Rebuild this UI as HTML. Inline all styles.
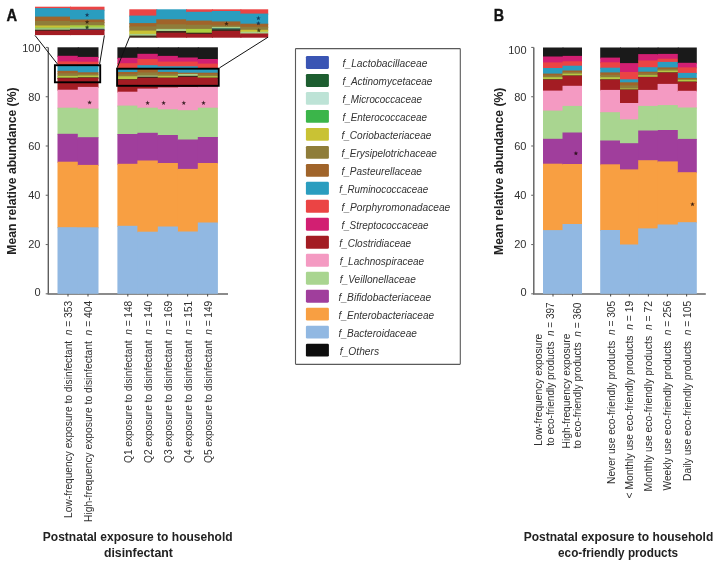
<!DOCTYPE html>
<html><head><meta charset="utf-8"><style>
html,body{margin:0;padding:0;background:#fff;}
svg{display:block;font-family:"Liberation Sans", sans-serif;will-change:transform;}
</style></head><body>
<svg width="720" height="567" viewBox="0 0 720 567">
<rect width="720" height="567" fill="#fff"/>
<text x="6.5" y="20.9" font-size="16.3" font-weight="bold" fill="#111" stroke="#111" stroke-width="0.35" textLength="10.6" lengthAdjust="spacingAndGlyphs">A</text>
<text x="493.8" y="20.8" font-size="16.3" font-weight="bold" fill="#111" stroke="#111" stroke-width="0.35" textLength="10.3" lengthAdjust="spacingAndGlyphs">B</text>
<line x1="48.3" y1="47.4" x2="48.3" y2="293.8" stroke="#5e5e5e" stroke-width="1.4"/>
<line x1="45.699999999999996" y1="293.80" x2="48.3" y2="293.80" stroke="#6e6e6e" stroke-width="1.1"/>
<text x="40.5" y="295.55" text-anchor="end" font-size="11" fill="#303030">0</text>
<line x1="45.699999999999996" y1="244.53" x2="48.3" y2="244.53" stroke="#6e6e6e" stroke-width="1.1"/>
<text x="40.5" y="248.48" text-anchor="end" font-size="11" fill="#303030">20</text>
<line x1="45.699999999999996" y1="195.26" x2="48.3" y2="195.26" stroke="#6e6e6e" stroke-width="1.1"/>
<text x="40.5" y="199.21" text-anchor="end" font-size="11" fill="#303030">40</text>
<line x1="45.699999999999996" y1="145.99" x2="48.3" y2="145.99" stroke="#6e6e6e" stroke-width="1.1"/>
<text x="40.5" y="149.94" text-anchor="end" font-size="11" fill="#303030">60</text>
<line x1="45.699999999999996" y1="96.72" x2="48.3" y2="96.72" stroke="#6e6e6e" stroke-width="1.1"/>
<text x="40.5" y="100.67" text-anchor="end" font-size="11" fill="#303030">80</text>
<line x1="45.699999999999996" y1="47.45" x2="48.3" y2="47.45" stroke="#6e6e6e" stroke-width="1.1"/>
<text x="40.5" y="51.90" text-anchor="end" font-size="11" fill="#303030">100</text>
<line x1="47.6" y1="294.0" x2="228" y2="294.0" stroke="#646464" stroke-width="1.5"/>
<line x1="68" y1="293.8" x2="68" y2="296.40000000000003" stroke="#555" stroke-width="1.1"/>
<line x1="88" y1="293.8" x2="88" y2="296.40000000000003" stroke="#555" stroke-width="1.1"/>
<line x1="127.8" y1="293.8" x2="127.8" y2="296.40000000000003" stroke="#555" stroke-width="1.1"/>
<line x1="147.6" y1="293.8" x2="147.6" y2="296.40000000000003" stroke="#555" stroke-width="1.1"/>
<line x1="167.7" y1="293.8" x2="167.7" y2="296.40000000000003" stroke="#555" stroke-width="1.1"/>
<line x1="187.6" y1="293.8" x2="187.6" y2="296.40000000000003" stroke="#555" stroke-width="1.1"/>
<line x1="207.6" y1="293.8" x2="207.6" y2="296.40000000000003" stroke="#555" stroke-width="1.1"/>
<rect x="57.50" y="47.30" width="21.30" height="9.50" fill="#1a1a1a"/>
<rect x="57.50" y="55.80" width="21.30" height="6.60" fill="#d21f72"/>
<rect x="57.50" y="61.40" width="21.30" height="5.10" fill="#eb4444"/>
<rect x="57.50" y="65.50" width="21.30" height="6.30" fill="#2a9dbf"/>
<rect x="57.50" y="70.80" width="21.30" height="3.50" fill="#a0642a"/>
<rect x="57.50" y="73.30" width="21.30" height="3.60" fill="#8f7d3a"/>
<rect x="57.50" y="75.90" width="21.30" height="2.80" fill="#b4c944"/>
<rect x="57.50" y="77.70" width="21.30" height="1.50" fill="#3e2a1c"/>
<rect x="57.50" y="78.20" width="21.30" height="12.50" fill="#a31c23"/>
<rect x="57.50" y="89.70" width="21.30" height="19.00" fill="#f49ac2"/>
<rect x="57.50" y="107.70" width="21.30" height="27.10" fill="#a9d590"/>
<rect x="57.50" y="133.80" width="21.30" height="28.90" fill="#a03e9c"/>
<rect x="57.50" y="161.70" width="21.30" height="66.50" fill="#f89f42"/>
<rect x="57.50" y="227.20" width="21.30" height="66.60" fill="#91b8e2"/>
<rect x="77.80" y="47.30" width="20.70" height="10.60" fill="#1a1a1a"/>
<rect x="77.80" y="56.90" width="20.70" height="5.80" fill="#d21f72"/>
<rect x="77.80" y="61.70" width="20.70" height="5.10" fill="#eb4444"/>
<rect x="77.80" y="65.80" width="20.70" height="7.50" fill="#2a9dbf"/>
<rect x="77.80" y="72.30" width="20.70" height="2.50" fill="#a0642a"/>
<rect x="77.80" y="73.80" width="20.70" height="2.70" fill="#8f7d3a"/>
<rect x="77.80" y="75.50" width="20.70" height="2.80" fill="#b4c944"/>
<rect x="77.80" y="77.30" width="20.70" height="1.50" fill="#3e2a1c"/>
<rect x="77.80" y="77.80" width="20.70" height="10.10" fill="#a31c23"/>
<rect x="77.80" y="86.90" width="20.70" height="22.70" fill="#f49ac2"/>
<rect x="77.80" y="108.60" width="20.70" height="29.60" fill="#a9d590"/>
<rect x="77.80" y="137.20" width="20.70" height="28.70" fill="#a03e9c"/>
<rect x="77.80" y="164.90" width="20.70" height="63.40" fill="#f89f42"/>
<rect x="77.80" y="227.30" width="20.70" height="66.50" fill="#91b8e2"/>
<rect x="117.40" y="47.30" width="21.00" height="11.50" fill="#1a1a1a"/>
<rect x="117.40" y="57.80" width="21.00" height="6.40" fill="#d21f72"/>
<rect x="117.40" y="63.20" width="21.00" height="6.30" fill="#eb4444"/>
<rect x="117.40" y="68.50" width="21.00" height="4.50" fill="#2a9dbf"/>
<rect x="117.40" y="72.00" width="21.00" height="3.20" fill="#a0642a"/>
<rect x="117.40" y="74.20" width="21.00" height="3.10" fill="#8f7d3a"/>
<rect x="117.40" y="76.30" width="21.00" height="3.90" fill="#b4c944"/>
<rect x="117.40" y="79.20" width="21.00" height="1.40" fill="#3e2a1c"/>
<rect x="117.40" y="79.60" width="21.00" height="13.10" fill="#a31c23"/>
<rect x="117.40" y="91.70" width="21.00" height="14.90" fill="#f49ac2"/>
<rect x="117.40" y="105.60" width="21.00" height="29.40" fill="#a9d590"/>
<rect x="117.40" y="134.00" width="21.00" height="30.80" fill="#a03e9c"/>
<rect x="117.40" y="163.80" width="21.00" height="63.00" fill="#f89f42"/>
<rect x="117.40" y="225.80" width="21.00" height="68.00" fill="#91b8e2"/>
<rect x="137.40" y="47.30" width="21.40" height="7.50" fill="#1a1a1a"/>
<rect x="137.40" y="53.80" width="21.40" height="6.20" fill="#d21f72"/>
<rect x="137.40" y="59.00" width="21.40" height="7.20" fill="#eb4444"/>
<rect x="137.40" y="65.20" width="21.40" height="4.80" fill="#2a9dbf"/>
<rect x="137.40" y="69.00" width="21.40" height="4.50" fill="#a0642a"/>
<rect x="137.40" y="72.50" width="21.40" height="4.10" fill="#8f7d3a"/>
<rect x="137.40" y="75.60" width="21.40" height="2.10" fill="#a8d08a"/>
<rect x="137.40" y="76.70" width="21.40" height="2.20" fill="#3e2a1c"/>
<rect x="137.40" y="77.90" width="21.40" height="11.70" fill="#a31c23"/>
<rect x="137.40" y="88.60" width="21.40" height="20.10" fill="#f49ac2"/>
<rect x="137.40" y="107.70" width="21.40" height="26.10" fill="#a9d590"/>
<rect x="137.40" y="132.80" width="21.40" height="28.70" fill="#a03e9c"/>
<rect x="137.40" y="160.50" width="21.40" height="72.20" fill="#f89f42"/>
<rect x="137.40" y="231.70" width="21.40" height="62.10" fill="#91b8e2"/>
<rect x="157.80" y="47.30" width="21.10" height="9.60" fill="#1a1a1a"/>
<rect x="157.80" y="55.90" width="21.10" height="6.70" fill="#d21f72"/>
<rect x="157.80" y="61.60" width="21.10" height="5.70" fill="#eb4444"/>
<rect x="157.80" y="66.30" width="21.10" height="6.60" fill="#2a9dbf"/>
<rect x="157.80" y="71.90" width="21.10" height="2.90" fill="#a0642a"/>
<rect x="157.80" y="73.80" width="21.10" height="3.00" fill="#8f7d3a"/>
<rect x="157.80" y="75.80" width="21.10" height="2.80" fill="#b4c944"/>
<rect x="157.80" y="77.60" width="21.10" height="1.30" fill="#3e2a1c"/>
<rect x="157.80" y="77.90" width="21.10" height="10.50" fill="#a31c23"/>
<rect x="157.80" y="87.40" width="21.10" height="22.90" fill="#f49ac2"/>
<rect x="157.80" y="109.30" width="21.10" height="26.70" fill="#a9d590"/>
<rect x="157.80" y="135.00" width="21.10" height="29.00" fill="#a03e9c"/>
<rect x="157.80" y="163.00" width="21.10" height="64.50" fill="#f89f42"/>
<rect x="157.80" y="226.50" width="21.10" height="67.30" fill="#91b8e2"/>
<rect x="177.90" y="47.30" width="20.90" height="11.20" fill="#1a1a1a"/>
<rect x="177.90" y="57.50" width="20.90" height="5.10" fill="#d21f72"/>
<rect x="177.90" y="61.60" width="20.90" height="5.70" fill="#eb4444"/>
<rect x="177.90" y="66.30" width="20.90" height="7.40" fill="#2a9dbf"/>
<rect x="177.90" y="72.70" width="20.90" height="2.20" fill="#a0642a"/>
<rect x="177.90" y="73.90" width="20.90" height="2.90" fill="#a8d08a"/>
<rect x="177.90" y="75.80" width="20.90" height="2.20" fill="#3e2a1c"/>
<rect x="177.90" y="77.00" width="20.90" height="11.00" fill="#a31c23"/>
<rect x="177.90" y="87.00" width="20.90" height="24.20" fill="#f49ac2"/>
<rect x="177.90" y="110.20" width="20.90" height="30.30" fill="#a9d590"/>
<rect x="177.90" y="139.50" width="20.90" height="30.40" fill="#a03e9c"/>
<rect x="177.90" y="168.90" width="20.90" height="63.60" fill="#f89f42"/>
<rect x="177.90" y="231.50" width="20.90" height="62.30" fill="#91b8e2"/>
<rect x="197.80" y="47.30" width="20.10" height="12.70" fill="#1a1a1a"/>
<rect x="197.80" y="59.00" width="20.10" height="5.60" fill="#d21f72"/>
<rect x="197.80" y="63.60" width="20.10" height="5.70" fill="#eb4444"/>
<rect x="197.80" y="68.30" width="20.10" height="5.40" fill="#2a9dbf"/>
<rect x="197.80" y="72.70" width="20.10" height="2.80" fill="#a0642a"/>
<rect x="197.80" y="74.50" width="20.10" height="2.70" fill="#8f7d3a"/>
<rect x="197.80" y="76.20" width="20.10" height="2.40" fill="#b4c944"/>
<rect x="197.80" y="77.60" width="20.10" height="1.30" fill="#3e2a1c"/>
<rect x="197.80" y="77.90" width="20.10" height="9.70" fill="#a31c23"/>
<rect x="197.80" y="86.60" width="20.10" height="22.10" fill="#f49ac2"/>
<rect x="197.80" y="107.70" width="20.10" height="30.30" fill="#a9d590"/>
<rect x="197.80" y="137.00" width="20.10" height="27.00" fill="#a03e9c"/>
<rect x="197.80" y="163.00" width="20.10" height="60.50" fill="#f89f42"/>
<rect x="197.80" y="222.50" width="20.10" height="71.30" fill="#91b8e2"/>
<polygon points="89.60,100.20 90.19,101.78 91.88,101.86 90.56,102.91 91.01,104.54 89.60,103.61 88.19,104.54 88.64,102.91 87.32,101.86 89.01,101.78" fill="#1a0808" fill-opacity="0.82"/>
<polygon points="147.60,100.60 148.19,102.18 149.88,102.26 148.56,103.31 149.01,104.94 147.60,104.01 146.19,104.94 146.64,103.31 145.32,102.26 147.01,102.18" fill="#1a0808" fill-opacity="0.82"/>
<polygon points="163.60,100.60 164.19,102.18 165.88,102.26 164.56,103.31 165.01,104.94 163.60,104.01 162.19,104.94 162.64,103.31 161.32,102.26 163.01,102.18" fill="#1a0808" fill-opacity="0.82"/>
<polygon points="183.80,100.60 184.39,102.18 186.08,102.26 184.76,103.31 185.21,104.94 183.80,104.01 182.39,104.94 182.84,103.31 181.52,102.26 183.21,102.18" fill="#1a0808" fill-opacity="0.82"/>
<polygon points="203.50,100.60 204.09,102.18 205.78,102.26 204.46,103.31 204.91,104.94 203.50,104.01 202.09,104.94 202.54,103.31 201.22,102.26 202.91,102.18" fill="#1a0808" fill-opacity="0.82"/>
<rect x="54.9" y="65.2" width="45.3" height="17.1" fill="none" stroke="#000" stroke-width="1.9"/>
<rect x="117.1" y="68.7" width="101.6" height="17.1" fill="none" stroke="#000" stroke-width="1.9"/>
<rect x="35.00" y="6.70" width="36.00" height="2.40" fill="#eb4444"/>
<rect x="35.00" y="8.10" width="36.00" height="9.50" fill="#2a9dbf"/>
<rect x="35.00" y="16.60" width="36.00" height="5.40" fill="#a0642a"/>
<rect x="35.00" y="21.00" width="36.00" height="5.50" fill="#8f7d3a"/>
<rect x="35.00" y="25.50" width="36.00" height="3.10" fill="#c9c234"/>
<rect x="35.00" y="27.60" width="36.00" height="1.90" fill="#86c060"/>
<rect x="35.00" y="28.50" width="36.00" height="2.20" fill="#a8d08a"/>
<rect x="35.00" y="29.70" width="36.00" height="2.10" fill="#3e2a1c"/>
<rect x="35.00" y="30.80" width="36.00" height="4.30" fill="#a31c23"/>
<rect x="70.00" y="6.70" width="34.50" height="4.00" fill="#eb4444"/>
<rect x="70.00" y="9.70" width="34.50" height="10.80" fill="#2a9dbf"/>
<rect x="70.00" y="19.50" width="34.50" height="3.60" fill="#a0642a"/>
<rect x="70.00" y="22.10" width="34.50" height="4.20" fill="#8f7d3a"/>
<rect x="70.00" y="25.30" width="34.50" height="3.10" fill="#aacf3e"/>
<rect x="70.00" y="27.40" width="34.50" height="2.40" fill="#a8d08a"/>
<rect x="70.00" y="28.80" width="34.50" height="2.00" fill="#3a4860"/>
<rect x="70.00" y="29.80" width="34.50" height="5.30" fill="#a31c23"/>
<rect x="129.30" y="9.30" width="28.00" height="7.30" fill="#eb4444"/>
<rect x="129.30" y="15.60" width="28.00" height="8.50" fill="#2a9dbf"/>
<rect x="129.30" y="23.10" width="28.00" height="4.30" fill="#a0642a"/>
<rect x="129.30" y="26.40" width="28.00" height="5.20" fill="#8f7d3a"/>
<rect x="129.30" y="30.60" width="28.00" height="4.30" fill="#c9c234"/>
<rect x="129.30" y="33.90" width="28.00" height="2.70" fill="#a8d08a"/>
<rect x="129.30" y="35.60" width="28.00" height="2.10" fill="#3e2a1c"/>
<rect x="156.30" y="9.30" width="30.80" height="11.00" fill="#2a9dbf"/>
<rect x="156.30" y="19.30" width="30.80" height="6.00" fill="#a0642a"/>
<rect x="156.30" y="24.30" width="30.80" height="5.60" fill="#8f7d3a"/>
<rect x="156.30" y="28.90" width="30.80" height="3.10" fill="#a8d08a"/>
<rect x="156.30" y="31.00" width="30.80" height="2.70" fill="#3e2a1c"/>
<rect x="156.30" y="32.70" width="30.80" height="5.00" fill="#a31c23"/>
<rect x="186.10" y="9.30" width="26.80" height="3.50" fill="#eb4444"/>
<rect x="186.10" y="11.80" width="26.80" height="9.80" fill="#2a9dbf"/>
<rect x="186.10" y="20.60" width="26.80" height="5.15" fill="#a0642a"/>
<rect x="186.10" y="24.75" width="26.80" height="5.15" fill="#8f7d3a"/>
<rect x="186.10" y="28.90" width="26.80" height="4.80" fill="#aacf3e"/>
<rect x="186.10" y="32.70" width="26.80" height="2.20" fill="#3e2a1c"/>
<rect x="186.10" y="33.90" width="26.80" height="3.80" fill="#a31c23"/>
<rect x="211.90" y="9.30" width="29.50" height="2.70" fill="#eb4444"/>
<rect x="211.90" y="11.00" width="29.50" height="11.40" fill="#2a9dbf"/>
<rect x="211.90" y="21.40" width="29.50" height="5.00" fill="#a0642a"/>
<rect x="211.90" y="25.40" width="29.50" height="2.50" fill="#8f7d3a"/>
<rect x="211.90" y="26.90" width="29.50" height="2.30" fill="#a8d08a"/>
<rect x="211.90" y="28.20" width="29.50" height="2.20" fill="#2f6e60"/>
<rect x="211.90" y="29.40" width="29.50" height="2.60" fill="#3e2a1c"/>
<rect x="211.90" y="31.00" width="29.50" height="6.70" fill="#a31c23"/>
<rect x="240.40" y="9.30" width="27.80" height="5.30" fill="#eb4444"/>
<rect x="240.40" y="13.60" width="27.80" height="11.10" fill="#2a9dbf"/>
<rect x="240.40" y="23.70" width="27.80" height="4.10" fill="#a0642a"/>
<rect x="240.40" y="26.80" width="27.80" height="4.00" fill="#8f7d3a"/>
<rect x="240.40" y="29.80" width="27.80" height="2.90" fill="#c9c234"/>
<rect x="240.40" y="31.70" width="27.80" height="2.80" fill="#a8d08a"/>
<rect x="240.40" y="33.50" width="27.80" height="4.20" fill="#a31c23"/>
<polygon points="87.10,12.60 87.69,14.18 89.38,14.26 88.06,15.31 88.51,16.94 87.10,16.01 85.69,16.94 86.14,15.31 84.82,14.26 86.51,14.18" fill="#10284a" fill-opacity="0.82"/>
<polygon points="87.10,19.70 87.69,21.28 89.38,21.36 88.06,22.41 88.51,24.04 87.10,23.11 85.69,24.04 86.14,22.41 84.82,21.36 86.51,21.28" fill="#2a1808" fill-opacity="0.82"/>
<polygon points="87.10,25.00 87.69,26.58 89.38,26.66 88.06,27.71 88.51,29.34 87.10,28.41 85.69,29.34 86.14,27.71 84.82,26.66 86.51,26.58" fill="#0c2a10" fill-opacity="0.82"/>
<polygon points="226.50,21.30 227.09,22.88 228.78,22.96 227.46,24.01 227.91,25.64 226.50,24.71 225.09,25.64 225.54,24.01 224.22,22.96 225.91,22.88" fill="#2a1808" fill-opacity="0.82"/>
<polygon points="258.40,15.80 258.99,17.38 260.68,17.46 259.36,18.51 259.81,20.14 258.40,19.21 256.99,20.14 257.44,18.51 256.12,17.46 257.81,17.38" fill="#10284a" fill-opacity="0.82"/>
<polygon points="258.40,21.00 258.99,22.58 260.68,22.66 259.36,23.71 259.81,25.34 258.40,24.41 256.99,25.34 257.44,23.71 256.12,22.66 257.81,22.58" fill="#10284a" fill-opacity="0.82"/>
<polygon points="258.80,28.00 259.39,29.58 261.08,29.66 259.76,30.71 260.21,32.34 258.80,31.41 257.39,32.34 257.84,30.71 256.52,29.66 258.21,29.58" fill="#2a2a08" fill-opacity="0.82"/>
<line x1="35" y1="35.4" x2="57.6" y2="64.2" stroke="#111" stroke-width="1"/>
<line x1="104.4" y1="35.4" x2="99.6" y2="64.2" stroke="#111" stroke-width="1"/>
<line x1="129.5" y1="37.2" x2="117.2" y2="67.8" stroke="#111" stroke-width="1"/>
<line x1="268" y1="37.2" x2="219.6" y2="67.8" stroke="#111" stroke-width="1"/>
<line x1="533.8" y1="47.4" x2="533.8" y2="293.8" stroke="#5e5e5e" stroke-width="1.4"/>
<line x1="531.1999999999999" y1="293.80" x2="533.8" y2="293.80" stroke="#6e6e6e" stroke-width="1.1"/>
<text x="526.5" y="295.55" text-anchor="end" font-size="11" fill="#303030">0</text>
<line x1="531.1999999999999" y1="244.53" x2="533.8" y2="244.53" stroke="#6e6e6e" stroke-width="1.1"/>
<text x="526.5" y="248.48" text-anchor="end" font-size="11" fill="#303030">20</text>
<line x1="531.1999999999999" y1="195.26" x2="533.8" y2="195.26" stroke="#6e6e6e" stroke-width="1.1"/>
<text x="526.5" y="199.21" text-anchor="end" font-size="11" fill="#303030">40</text>
<line x1="531.1999999999999" y1="145.99" x2="533.8" y2="145.99" stroke="#6e6e6e" stroke-width="1.1"/>
<text x="526.5" y="149.94" text-anchor="end" font-size="11" fill="#303030">60</text>
<line x1="531.1999999999999" y1="96.72" x2="533.8" y2="96.72" stroke="#6e6e6e" stroke-width="1.1"/>
<text x="526.5" y="100.67" text-anchor="end" font-size="11" fill="#303030">80</text>
<line x1="531.1999999999999" y1="47.45" x2="533.8" y2="47.45" stroke="#6e6e6e" stroke-width="1.1"/>
<text x="526.5" y="53.70" text-anchor="end" font-size="11" fill="#303030">100</text>
<line x1="533" y1="294.0" x2="705.8" y2="294.0" stroke="#646464" stroke-width="1.5"/>
<line x1="553" y1="293.8" x2="553" y2="296.40000000000003" stroke="#555" stroke-width="1.1"/>
<line x1="572.5" y1="293.8" x2="572.5" y2="296.40000000000003" stroke="#555" stroke-width="1.1"/>
<line x1="610.6" y1="293.8" x2="610.6" y2="296.40000000000003" stroke="#555" stroke-width="1.1"/>
<line x1="629.4" y1="293.8" x2="629.4" y2="296.40000000000003" stroke="#555" stroke-width="1.1"/>
<line x1="648.4" y1="293.8" x2="648.4" y2="296.40000000000003" stroke="#555" stroke-width="1.1"/>
<line x1="667.4" y1="293.8" x2="667.4" y2="296.40000000000003" stroke="#555" stroke-width="1.1"/>
<line x1="686.6" y1="293.8" x2="686.6" y2="296.40000000000003" stroke="#555" stroke-width="1.1"/>
<rect x="543.00" y="47.50" width="20.50" height="10.00" fill="#1a1a1a"/>
<rect x="543.00" y="56.50" width="20.50" height="6.90" fill="#d21f72"/>
<rect x="543.00" y="62.40" width="20.50" height="6.60" fill="#eb4444"/>
<rect x="543.00" y="68.00" width="20.50" height="6.60" fill="#2a9dbf"/>
<rect x="543.00" y="73.60" width="20.50" height="2.80" fill="#a0642a"/>
<rect x="543.00" y="75.40" width="20.50" height="2.80" fill="#8f7d3a"/>
<rect x="543.00" y="77.20" width="20.50" height="3.10" fill="#b4c944"/>
<rect x="543.00" y="79.30" width="20.50" height="1.30" fill="#3e2a1c"/>
<rect x="543.00" y="79.60" width="20.50" height="12.00" fill="#a31c23"/>
<rect x="543.00" y="90.60" width="20.50" height="21.00" fill="#f49ac2"/>
<rect x="543.00" y="110.60" width="20.50" height="29.20" fill="#a9d590"/>
<rect x="543.00" y="138.80" width="20.50" height="25.90" fill="#a03e9c"/>
<rect x="543.00" y="163.70" width="20.50" height="67.40" fill="#f89f42"/>
<rect x="543.00" y="230.10" width="20.50" height="63.70" fill="#91b8e2"/>
<rect x="562.50" y="47.50" width="19.50" height="9.40" fill="#1a1a1a"/>
<rect x="562.50" y="55.90" width="19.50" height="6.40" fill="#d21f72"/>
<rect x="562.50" y="61.30" width="19.50" height="5.40" fill="#eb4444"/>
<rect x="562.50" y="65.70" width="19.50" height="5.80" fill="#2a9dbf"/>
<rect x="562.50" y="70.50" width="19.50" height="2.50" fill="#a0642a"/>
<rect x="562.50" y="72.00" width="19.50" height="2.60" fill="#8f7d3a"/>
<rect x="562.50" y="73.60" width="19.50" height="2.90" fill="#b4c944"/>
<rect x="562.50" y="75.50" width="19.50" height="1.20" fill="#3e2a1c"/>
<rect x="562.50" y="75.70" width="19.50" height="11.10" fill="#a31c23"/>
<rect x="562.50" y="85.80" width="19.50" height="21.10" fill="#f49ac2"/>
<rect x="562.50" y="105.90" width="19.50" height="27.60" fill="#a9d590"/>
<rect x="562.50" y="132.50" width="19.50" height="32.50" fill="#a03e9c"/>
<rect x="562.50" y="164.00" width="19.50" height="61.00" fill="#f89f42"/>
<rect x="562.50" y="224.00" width="19.50" height="69.80" fill="#91b8e2"/>
<rect x="600.20" y="47.50" width="20.80" height="11.10" fill="#1a1a1a"/>
<rect x="600.20" y="57.60" width="20.80" height="5.70" fill="#d21f72"/>
<rect x="600.20" y="62.30" width="20.80" height="6.40" fill="#eb4444"/>
<rect x="600.20" y="67.70" width="20.80" height="5.70" fill="#2a9dbf"/>
<rect x="600.20" y="72.40" width="20.80" height="3.40" fill="#a0642a"/>
<rect x="600.20" y="74.80" width="20.80" height="3.40" fill="#8f7d3a"/>
<rect x="600.20" y="77.20" width="20.80" height="3.20" fill="#b4c944"/>
<rect x="600.20" y="79.40" width="20.80" height="1.20" fill="#3e2a1c"/>
<rect x="600.20" y="79.60" width="20.80" height="11.30" fill="#a31c23"/>
<rect x="600.20" y="89.90" width="20.80" height="23.30" fill="#f49ac2"/>
<rect x="600.20" y="112.20" width="20.80" height="29.30" fill="#a9d590"/>
<rect x="600.20" y="140.50" width="20.80" height="24.80" fill="#a03e9c"/>
<rect x="600.20" y="164.30" width="20.80" height="66.70" fill="#f89f42"/>
<rect x="600.20" y="230.00" width="20.80" height="63.80" fill="#91b8e2"/>
<rect x="620.00" y="47.50" width="19.20" height="16.60" fill="#1a1a1a"/>
<rect x="620.00" y="63.10" width="19.20" height="9.90" fill="#d21f72"/>
<rect x="620.00" y="72.00" width="19.20" height="8.30" fill="#eb4444"/>
<rect x="620.00" y="79.30" width="19.20" height="4.00" fill="#2a9dbf"/>
<rect x="620.00" y="82.30" width="19.20" height="4.10" fill="#a0642a"/>
<rect x="620.00" y="85.40" width="19.20" height="4.10" fill="#8f7d3a"/>
<rect x="620.00" y="88.50" width="19.20" height="2.00" fill="#b4c944"/>
<rect x="620.00" y="89.50" width="19.20" height="1.20" fill="#3e2a1c"/>
<rect x="620.00" y="89.70" width="19.20" height="14.30" fill="#a31c23"/>
<rect x="620.00" y="103.00" width="19.20" height="17.40" fill="#f49ac2"/>
<rect x="620.00" y="119.40" width="19.20" height="24.80" fill="#a9d590"/>
<rect x="620.00" y="143.20" width="19.20" height="27.20" fill="#a03e9c"/>
<rect x="620.00" y="169.40" width="19.20" height="76.10" fill="#f89f42"/>
<rect x="620.00" y="244.50" width="19.20" height="49.30" fill="#91b8e2"/>
<rect x="638.20" y="47.50" width="20.40" height="7.60" fill="#1a1a1a"/>
<rect x="638.20" y="54.10" width="20.40" height="7.40" fill="#d21f72"/>
<rect x="638.20" y="60.50" width="20.40" height="7.70" fill="#eb4444"/>
<rect x="638.20" y="67.20" width="20.40" height="5.50" fill="#2a9dbf"/>
<rect x="638.20" y="71.70" width="20.40" height="2.70" fill="#a0642a"/>
<rect x="638.20" y="73.40" width="20.40" height="2.80" fill="#8f7d3a"/>
<rect x="638.20" y="75.20" width="20.40" height="2.60" fill="#b4c944"/>
<rect x="638.20" y="76.80" width="20.40" height="1.20" fill="#3e2a1c"/>
<rect x="638.20" y="77.00" width="20.40" height="13.90" fill="#a31c23"/>
<rect x="638.20" y="89.90" width="20.40" height="17.00" fill="#f49ac2"/>
<rect x="638.20" y="105.90" width="20.40" height="25.60" fill="#a9d590"/>
<rect x="638.20" y="130.50" width="20.40" height="30.70" fill="#a03e9c"/>
<rect x="638.20" y="160.20" width="20.40" height="69.20" fill="#f89f42"/>
<rect x="638.20" y="228.40" width="20.40" height="65.40" fill="#91b8e2"/>
<rect x="657.60" y="47.50" width="21.20" height="7.40" fill="#1a1a1a"/>
<rect x="657.60" y="53.90" width="21.20" height="5.80" fill="#d21f72"/>
<rect x="657.60" y="58.70" width="21.20" height="4.20" fill="#eb4444"/>
<rect x="657.60" y="61.90" width="21.20" height="6.50" fill="#2a9dbf"/>
<rect x="657.60" y="67.40" width="21.20" height="2.60" fill="#a0642a"/>
<rect x="657.60" y="69.00" width="21.20" height="2.60" fill="#8f7d3a"/>
<rect x="657.60" y="70.60" width="21.20" height="2.80" fill="#b4c944"/>
<rect x="657.60" y="72.40" width="21.20" height="1.20" fill="#3e2a1c"/>
<rect x="657.60" y="72.60" width="21.20" height="12.30" fill="#a31c23"/>
<rect x="657.60" y="83.90" width="21.20" height="22.20" fill="#f49ac2"/>
<rect x="657.60" y="105.10" width="21.20" height="25.90" fill="#a9d590"/>
<rect x="657.60" y="130.00" width="21.20" height="32.40" fill="#a03e9c"/>
<rect x="657.60" y="161.40" width="21.20" height="64.10" fill="#f89f42"/>
<rect x="657.60" y="224.50" width="21.20" height="69.30" fill="#91b8e2"/>
<rect x="677.80" y="47.50" width="19.00" height="16.30" fill="#1a1a1a"/>
<rect x="677.80" y="62.80" width="19.00" height="5.60" fill="#d21f72"/>
<rect x="677.80" y="67.40" width="19.00" height="6.50" fill="#eb4444"/>
<rect x="677.80" y="72.90" width="19.00" height="6.00" fill="#2a9dbf"/>
<rect x="677.80" y="77.90" width="19.00" height="2.00" fill="#a0642a"/>
<rect x="677.80" y="78.90" width="19.00" height="1.90" fill="#8f7d3a"/>
<rect x="677.80" y="79.80" width="19.00" height="2.80" fill="#b4c944"/>
<rect x="677.80" y="81.60" width="19.00" height="1.20" fill="#3e2a1c"/>
<rect x="677.80" y="81.80" width="19.00" height="10.00" fill="#a31c23"/>
<rect x="677.80" y="90.80" width="19.00" height="17.70" fill="#f49ac2"/>
<rect x="677.80" y="107.50" width="19.00" height="32.40" fill="#a9d590"/>
<rect x="677.80" y="138.90" width="19.00" height="34.30" fill="#a03e9c"/>
<rect x="677.80" y="172.20" width="19.00" height="51.00" fill="#f89f42"/>
<rect x="677.80" y="222.20" width="19.00" height="71.60" fill="#91b8e2"/>
<polygon points="575.90,151.00 576.49,152.58 578.18,152.66 576.86,153.71 577.31,155.34 575.90,154.41 574.49,155.34 574.94,153.71 573.62,152.66 575.31,152.58" fill="#1a0808" fill-opacity="0.82"/>
<polygon points="692.50,201.90 693.09,203.48 694.78,203.56 693.46,204.61 693.91,206.24 692.50,205.31 691.09,206.24 691.54,204.61 690.22,203.56 691.91,203.48" fill="#1a0808" fill-opacity="0.82"/>
<text transform="translate(16.4,171.1) rotate(-90)" text-anchor="middle" font-size="12.5" font-weight="bold" fill="#222" textLength="167.3" lengthAdjust="spacingAndGlyphs">Mean relative abundance (%)</text>
<text transform="translate(502.9,171.3) rotate(-90)" text-anchor="middle" font-size="12.5" font-weight="bold" fill="#222" textLength="167.3" lengthAdjust="spacingAndGlyphs">Mean relative abundance (%)</text>
<text transform="translate(71.90,300.90) rotate(-90)" text-anchor="end" font-size="10.2" fill="#303030" textLength="217" lengthAdjust="spacingAndGlyphs">Low-frequency exposure to disinfectant  <tspan font-style="italic">n</tspan> = 353</text>
<text transform="translate(91.90,300.90) rotate(-90)" text-anchor="end" font-size="10.2" fill="#303030" textLength="221" lengthAdjust="spacingAndGlyphs">High-frequency exposure to disinfectant  <tspan font-style="italic">n</tspan> = 404</text>
<text transform="translate(131.70,300.90) rotate(-90)" text-anchor="end" font-size="10.2" fill="#303030" textLength="162" lengthAdjust="spacingAndGlyphs">Q1 exposure to disinfectant  <tspan font-style="italic">n</tspan> = 148</text>
<text transform="translate(151.50,300.90) rotate(-90)" text-anchor="end" font-size="10.2" fill="#303030" textLength="162" lengthAdjust="spacingAndGlyphs">Q2 exposure to disinfectant  <tspan font-style="italic">n</tspan> = 140</text>
<text transform="translate(171.60,300.90) rotate(-90)" text-anchor="end" font-size="10.2" fill="#303030" textLength="162" lengthAdjust="spacingAndGlyphs">Q3 exposure to disinfectant  <tspan font-style="italic">n</tspan> = 169</text>
<text transform="translate(191.50,300.90) rotate(-90)" text-anchor="end" font-size="10.2" fill="#303030" textLength="162" lengthAdjust="spacingAndGlyphs">Q4 exposure to disinfectant  <tspan font-style="italic">n</tspan> = 151</text>
<text transform="translate(211.50,300.90) rotate(-90)" text-anchor="end" font-size="10.2" fill="#303030" textLength="162" lengthAdjust="spacingAndGlyphs">Q5 exposure to disinfectant  <tspan font-style="italic">n</tspan> = 149</text>
<text transform="translate(542.30,445.70) rotate(-90)" text-anchor="start" font-size="10.2" fill="#303030" textLength="112" lengthAdjust="spacingAndGlyphs">Low-frequency exposure</text>
<text transform="translate(554.10,445.70) rotate(-90)" text-anchor="start" font-size="10.2" fill="#303030" textLength="143.4" lengthAdjust="spacingAndGlyphs">to eco-friendly products  <tspan font-style="italic">n</tspan> = 397</text>
<text transform="translate(570.10,448.50) rotate(-90)" text-anchor="start" font-size="10.2" fill="#303030" textLength="115" lengthAdjust="spacingAndGlyphs">High-frequency exposure</text>
<text transform="translate(580.90,448.50) rotate(-90)" text-anchor="start" font-size="10.2" fill="#303030" textLength="146" lengthAdjust="spacingAndGlyphs">to eco-friendly products  <tspan font-style="italic">n</tspan> = 360</text>
<text transform="translate(614.50,300.90) rotate(-90)" text-anchor="end" font-size="10.2" fill="#303030" textLength="183" lengthAdjust="spacingAndGlyphs">Never use eco-friendly products  <tspan font-style="italic">n</tspan> = 305</text>
<text transform="translate(633.30,300.90) rotate(-90)" text-anchor="end" font-size="10.2" fill="#303030" textLength="197.5" lengthAdjust="spacingAndGlyphs">&lt; Monthly use eco-friendly products  <tspan font-style="italic">n</tspan> = 19</text>
<text transform="translate(652.30,300.90) rotate(-90)" text-anchor="end" font-size="10.2" fill="#303030" textLength="190.5" lengthAdjust="spacingAndGlyphs">Monthly use eco-friendly products  <tspan font-style="italic">n</tspan> = 72</text>
<text transform="translate(671.30,300.90) rotate(-90)" text-anchor="end" font-size="10.2" fill="#303030" textLength="189.6" lengthAdjust="spacingAndGlyphs">Weekly use eco-friendly products  <tspan font-style="italic">n</tspan> = 256</text>
<text transform="translate(690.50,300.90) rotate(-90)" text-anchor="end" font-size="10.2" fill="#303030" textLength="180" lengthAdjust="spacingAndGlyphs">Daily use eco-friendly products  <tspan font-style="italic">n</tspan> = 105</text>
<text x="137.7" y="541.4" text-anchor="middle" font-size="13" font-weight="bold" fill="#222" textLength="189.8" lengthAdjust="spacingAndGlyphs">Postnatal exposure to household</text>
<text x="138.4" y="557.4" text-anchor="middle" font-size="13" font-weight="bold" fill="#222" textLength="69" lengthAdjust="spacingAndGlyphs">disinfectant</text>
<text x="618.5" y="541.4" text-anchor="middle" font-size="13" font-weight="bold" fill="#222" textLength="189.5" lengthAdjust="spacingAndGlyphs">Postnatal exposure to household</text>
<text x="618.1" y="557.4" text-anchor="middle" font-size="13" font-weight="bold" fill="#222" textLength="120" lengthAdjust="spacingAndGlyphs">eco-friendly products</text>
<rect x="295.5" y="48.6" width="164.8" height="315.8" rx="0.6" fill="#fff" stroke="#5a5a5a" stroke-width="1.1"/>
<rect x="305.9" y="56.00" width="23.0" height="12.9" rx="1.3" fill="#3a55b4"/>
<text x="342.6" y="66.70" font-size="10.4" font-style="italic" fill="#333" textLength="84.8" lengthAdjust="spacingAndGlyphs">f_Lactobacillaceae</text>
<rect x="305.9" y="73.98" width="23.0" height="12.9" rx="1.3" fill="#1d5e30"/>
<text x="342.6" y="84.73" font-size="10.4" font-style="italic" fill="#333" textLength="89.8" lengthAdjust="spacingAndGlyphs">f_Actinomycetaceae</text>
<rect x="305.9" y="91.96" width="23.0" height="12.9" rx="1.3" fill="#bde3d6"/>
<text x="342.6" y="102.76" font-size="10.4" font-style="italic" fill="#333" textLength="79.3" lengthAdjust="spacingAndGlyphs">f_Micrococcaceae</text>
<rect x="305.9" y="109.94" width="23.0" height="12.9" rx="1.3" fill="#3bb54a"/>
<text x="342.6" y="120.79" font-size="10.4" font-style="italic" fill="#333" textLength="84.3" lengthAdjust="spacingAndGlyphs">f_Enterococcaceae</text>
<rect x="305.9" y="127.92" width="23.0" height="12.9" rx="1.3" fill="#c9c234"/>
<text x="341.4" y="138.82" font-size="10.4" font-style="italic" fill="#333" textLength="90.0" lengthAdjust="spacingAndGlyphs">f_Coriobacteriaceae</text>
<rect x="305.9" y="145.90" width="23.0" height="12.9" rx="1.3" fill="#8f7d3a"/>
<text x="341.4" y="156.85" font-size="10.4" font-style="italic" fill="#333" textLength="95.5" lengthAdjust="spacingAndGlyphs">f_Erysipelotrichaceae</text>
<rect x="305.9" y="163.88" width="23.0" height="12.9" rx="1.3" fill="#a0642a"/>
<text x="341.4" y="174.88" font-size="10.4" font-style="italic" fill="#333" textLength="80.5" lengthAdjust="spacingAndGlyphs">f_Pasteurellaceae</text>
<rect x="305.9" y="181.86" width="23.0" height="12.9" rx="1.3" fill="#2a9dbf"/>
<text x="339.3" y="192.91" font-size="10.4" font-style="italic" fill="#333" textLength="88.8" lengthAdjust="spacingAndGlyphs">f_Ruminococcaceae</text>
<rect x="305.9" y="199.84" width="23.0" height="12.9" rx="1.3" fill="#eb4444"/>
<text x="341.4" y="210.94" font-size="10.4" font-style="italic" fill="#333" textLength="108.9" lengthAdjust="spacingAndGlyphs">f_Porphyromonadaceae</text>
<rect x="305.9" y="217.82" width="23.0" height="12.9" rx="1.3" fill="#d21f72"/>
<text x="341.4" y="228.97" font-size="10.4" font-style="italic" fill="#333" textLength="87.2" lengthAdjust="spacingAndGlyphs">f_Streptococcaceae</text>
<rect x="305.9" y="235.80" width="23.0" height="12.9" rx="1.3" fill="#a31c23"/>
<text x="339.3" y="247.00" font-size="10.4" font-style="italic" fill="#333" textLength="71.8" lengthAdjust="spacingAndGlyphs">f_Clostridiaceae</text>
<rect x="305.9" y="253.78" width="23.0" height="12.9" rx="1.3" fill="#f49ac2"/>
<text x="339.8" y="265.03" font-size="10.4" font-style="italic" fill="#333" textLength="84.3" lengthAdjust="spacingAndGlyphs">f_Lachnospiraceae</text>
<rect x="305.9" y="271.76" width="23.0" height="12.9" rx="1.3" fill="#a9d590"/>
<text x="339.8" y="283.06" font-size="10.4" font-style="italic" fill="#333" textLength="76.0" lengthAdjust="spacingAndGlyphs">f_Veillonellaceae</text>
<rect x="305.9" y="289.74" width="23.0" height="12.9" rx="1.3" fill="#a03e9c"/>
<text x="338.6" y="301.09" font-size="10.4" font-style="italic" fill="#333" textLength="92.5" lengthAdjust="spacingAndGlyphs">f_Bifidobacteriaceae</text>
<rect x="305.9" y="307.72" width="23.0" height="12.9" rx="1.3" fill="#f89f42"/>
<text x="338.6" y="319.12" font-size="10.4" font-style="italic" fill="#333" textLength="95.5" lengthAdjust="spacingAndGlyphs">f_Enterobacteriaceae</text>
<rect x="305.9" y="325.70" width="23.0" height="12.9" rx="1.3" fill="#91b8e2"/>
<text x="338.6" y="337.15" font-size="10.4" font-style="italic" fill="#333" textLength="78.3" lengthAdjust="spacingAndGlyphs">f_Bacteroidaceae</text>
<rect x="305.9" y="343.68" width="23.0" height="12.9" rx="1.3" fill="#0d0d0d"/>
<text x="339.8" y="355.18" font-size="10.4" font-style="italic" fill="#333" textLength="39.3" lengthAdjust="spacingAndGlyphs">f_Others</text>
</svg>
</body></html>
